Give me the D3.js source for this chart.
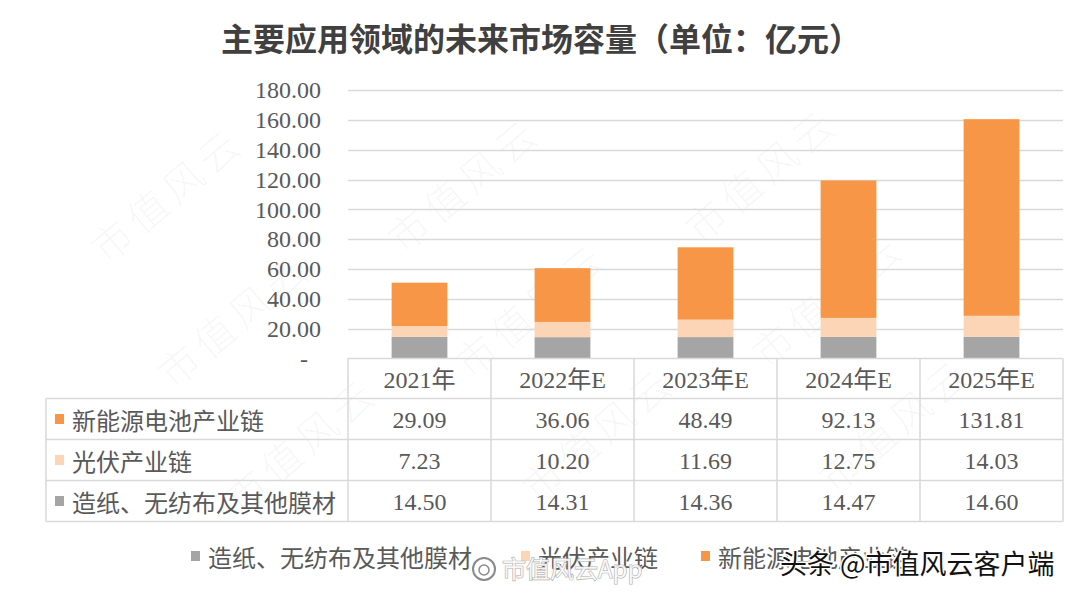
<!DOCTYPE html>
<html><head><meta charset="utf-8">
<script src="https://cdn.jsdelivr.net/npm/d3@7"></script>
<style>
html,body{margin:0;padding:0;background:#fff;}
svg{display:block;}
</style></head>
<body>
<svg id="chart" width="1080" height="595"></svg>
<script>
// ---------- data ----------
const title = "主要应用领域的未来市场容量（单位：亿元）";
const categories = ["2021年", "2022年E", "2023年E", "2024年E", "2025年E"];
const seriesNames = ["造纸、无纺布及其他膜材", "光伏产业链", "新能源电池产业链"];
const paperValues = [14.50, 14.31, 14.36, 14.47, 14.60];
const pvValues = [7.23, 10.20, 11.69, 12.75, 14.03];
const batteryValues = [29.09, 36.06, 48.49, 92.13, 131.81];
const yTicks = [0, 20, 40, 60, 80, 100, 120, 140, 160, 180];
const colors = ["#A5A5A5", "#FBD5B5", "#F79646"];

// ---------- setup ----------
const svg = d3.select("#chart");
const txt = "#595959";
const serif = "'Liberation Serif','Times New Roman','Noto Sans CJK SC',serif";
const cjk = "'Noto Sans CJK SC','Noto Sans',sans-serif";

const plotL = 348, plotR = 1063, plotTop = 90, plotBot = 358.5;
const x = d3.scaleBand().domain(categories).range([plotL, plotR]).paddingInner(0.61).paddingOuter(0.305);
const col = d3.scaleBand().domain(categories).range([plotL, plotR]).padding(0);
const y = d3.scaleLinear().domain([0, 180]).range([plotBot, plotTop]);

// watermark layer (faint diagonal)
const wm = svg.append("g").attr("pointer-events", "none");
for (let i = -2; i <= 3; i++) {
  for (let j = -2; j <= 3; j++) {
    const cx = 463 + i * 297 + j * 67;
    const cy = 183 - i * 10 + j * 125;
    if (cx < 85 || cx > 1000 || cy < 70 || cy > 520) continue;
    wm.append("text")
      .attr("transform", `translate(${cx},${cy}) rotate(-40)`)
      .attr("text-anchor", "middle").attr("dominant-baseline", "central")
      .attr("font-family", cjk).attr("font-size", 40).attr("font-weight", 300)
      .attr("fill", "#000").attr("fill-opacity", 0.045)
      .attr("letter-spacing", 6)
      .text("市值风云");
  }
}

// title
svg.append("text")
  .attr("x", 541).attr("y", 37)
  .attr("text-anchor", "middle").attr("dominant-baseline", "central")
  .attr("font-family", cjk).attr("font-size", 32).attr("font-weight", 700)
  .attr("fill", "#404040")
  .text(title);

// gridlines
svg.append("g").selectAll("line").data(yTicks.filter(d => d > 0)).join("line")
  .attr("x1", plotL).attr("x2", plotR)
  .attr("y1", d => Math.round(y(d)) + 0.5).attr("y2", d => Math.round(y(d)) + 0.5)
  .attr("stroke", "#D9D9D9").attr("stroke-width", 1.5);

// y axis
const yAxis = d3.axisLeft(y).tickValues(yTicks).tickSize(0).tickPadding(0)
  .tickFormat(d => d === 0 ? "-" : d.toFixed(2));
const ga = svg.append("g").attr("transform", "translate(321,0)").call(yAxis);
ga.select(".domain").remove();
ga.selectAll("text").attr("font-family", serif).attr("font-size", 24).attr("fill", txt)
  .attr("dy", "0.32em");
ga.selectAll(".tick").filter(d => d === 0).select("text").attr("dx", -13);

// stacked bars
const rows = categories.map((c, i) => ({cat: c, s0: paperValues[i], s1: pvValues[i], s2: batteryValues[i]}));
const stack = d3.stack().keys(["s0", "s1", "s2"])(rows);
svg.append("g").selectAll("g").data(stack).join("g")
  .attr("fill", (d, i) => colors[i])
  .selectAll("rect").data(d => d).join("rect")
  .attr("x", d => x(d.data.cat))
  .attr("width", x.bandwidth())
  .attr("y", d => y(d[1]))
  .attr("height", d => y(d[0]) - y(d[1]));

// data table
const tableLeft = 46;
const rowEdges = [358.5, 398.5, 439.5, 480.5, 521.5];
const tableSeries = [
  {name: seriesNames[2], color: colors[2], vals: batteryValues},
  {name: seriesNames[1], color: colors[1], vals: pvValues},
  {name: seriesNames[0], color: colors[0], vals: paperValues}
];
const tb = svg.append("g");
const border = "#D9D9D9";
tb.append("line").attr("x1", plotL).attr("x2", plotR).attr("y1", rowEdges[0]).attr("y2", rowEdges[0]).attr("stroke", border).attr("stroke-width", 1.5);
for (let r = 1; r < rowEdges.length; r++) {
  tb.append("line").attr("x1", tableLeft).attr("x2", plotR).attr("y1", rowEdges[r]).attr("y2", rowEdges[r]).attr("stroke", border).attr("stroke-width", 1.5);
}
tb.append("line").attr("x1", tableLeft).attr("x2", tableLeft).attr("y1", rowEdges[1]).attr("y2", rowEdges[4]).attr("stroke", border).attr("stroke-width", 1.5);
categories.forEach(c => {
  tb.append("line").attr("x1", col(c)).attr("x2", col(c)).attr("y1", rowEdges[0]).attr("y2", rowEdges[4]).attr("stroke", border).attr("stroke-width", 1.5);
});
tb.append("line").attr("x1", plotR).attr("x2", plotR).attr("y1", rowEdges[0]).attr("y2", rowEdges[4]).attr("stroke", border).attr("stroke-width", 1.5);

tb.selectAll("text.hdr").data(categories).join("text").attr("class", "hdr")
  .attr("x", d => col(d) + col.bandwidth() / 2).attr("y", (rowEdges[0] + rowEdges[1]) / 2 + 1)
  .attr("text-anchor", "middle").attr("dominant-baseline", "central")
  .attr("font-family", serif).attr("font-size", 24).attr("fill", txt)
  .text(d => d);

tableSeries.forEach((s, r) => {
  const cy = (rowEdges[r + 1] + rowEdges[r + 2]) / 2;
  tb.append("rect").attr("x", 55).attr("y", cy - 5).attr("width", 9).attr("height", 10).attr("fill", s.color);
  tb.append("text").attr("x", 72).attr("y", cy)
    .attr("dominant-baseline", "central")
    .attr("font-family", cjk).attr("font-size", 24).attr("fill", txt)
    .text(s.name);
  tb.selectAll(null).data(s.vals).join("text")
    .attr("x", (d, i) => col(categories[i]) + col.bandwidth() / 2).attr("y", cy + 1)
    .attr("text-anchor", "middle").attr("dominant-baseline", "central")
    .attr("font-family", serif).attr("font-size", 24).attr("fill", txt)
    .text(d => d.toFixed(2));
});

// legend
const legendItems = [
  {name: seriesNames[0], color: colors[0], x: 191},
  {name: seriesNames[1], color: colors[1], x: 521},
  {name: seriesNames[2], color: colors[2], x: 701}
];
const lg = svg.append("g");
legendItems.forEach(it => {
  lg.append("rect").attr("x", it.x).attr("y", 551).attr("width", 9).attr("height", 10).attr("fill", it.color);
  lg.append("text").attr("x", it.x + 17).attr("y", 556)
    .attr("dominant-baseline", "central")
    .attr("font-family", cjk).attr("font-size", 24).attr("fill", txt)
    .text(it.name);
});

// platform watermarks
const wb = svg.append("g");
wb.append("circle").attr("cx", 484).attr("cy", 569).attr("r", 11).attr("fill", "none").attr("stroke", "#8a8a8a").attr("stroke-width", 2);
wb.append("circle").attr("cx", 484).attr("cy", 570).attr("r", 5).attr("fill", "none").attr("stroke", "#8a8a8a").attr("stroke-width", 1.5);
wb.append("text").attr("x", 478).attr("y", 567).attr("dominant-baseline", "central")
  .attr("font-family", cjk).attr("font-size", 24).attr("fill", "#fff")
  .attr("stroke", "#b0b0b0").attr("stroke-width", 1.2).attr("paint-order", "stroke")
  .attr("fill-opacity", 0.85)
  .text("\u3000市值风云App");
svg.append("text").attr("x", 780).attr("y", 562).attr("dominant-baseline", "central")
  .attr("font-family", cjk).attr("font-size", 27).attr("fill", "#111")
  .attr("stroke", "#fff").attr("stroke-width", 3).attr("paint-order", "stroke")
  .text("头条 @市值风云客户端");
</script>
</body></html>
